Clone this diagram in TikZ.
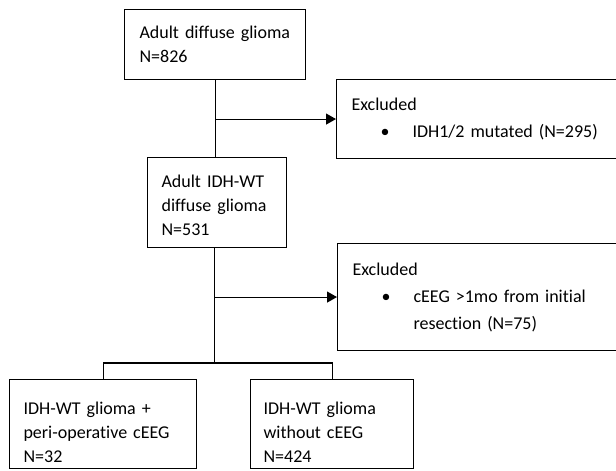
\documentclass[tikz,border=0pt]{standalone}
\usepackage{fontspec}
\setmainfont{Carlito}[Ligatures=CommonOff]
\usetikzlibrary{arrows.meta}
\tikzset{
  box/.style={draw, line width=1.1pt, anchor=north west, align=left, inner ysep=0pt,
    font=\fontsize{18}{24}\selectfont},
  excl/.style={box, inner xsep=15pt, text width=270pt},
  link/.style={line width=1.1pt},
  arr/.style={link, -{Triangle[length=10pt,width=11pt]}}
}
\begin{document}
\begin{tikzpicture}[x=1pt,y=-1pt]
      \useasboundingbox (0,0) rectangle (616,471);
      \node[box, inner xsep=15pt, text width=151pt, minimum height=70pt] (all) at (124,9)
        {Adult diffuse glioma\\N=826};
      \node[excl, minimum height=79pt] (ex1) at (336,79)
        {Excluded\\[3pt]\makebox[61pt][l]{\hspace*{29pt}\textbullet}IDH1/2 mutated (N=295)};
      \node[box, inner xsep=14pt, text width=111pt, minimum height=90pt, text height=19pt] (wt) at (147,157)
        {Adult IDH-WT\\diffuse glioma\\N=531};
      \node[excl, minimum height=107pt] (ex2) at (337,243)
        {Excluded\\[3pt]\makebox[61pt][l]{\hspace*{29pt}\textbullet}cEEG >1mo from initial\\[3pt]\hspace*{61pt}resection (N=75)};
      \node[box, inner xsep=14pt, text width=159pt, minimum height=89pt, text height=29pt] (eeg) at (9,379)
        {IDH-WT glioma +\\peri-operative cEEG\\N=32};
      \node[box, inner xsep=13pt, text width=137pt, minimum height=89pt, text height=29pt] (noeeg) at (250,379)
        {IDH-WT glioma\\without cEEG\\N=424};
      \coordinate (split) at (214.5,363);
      \begin{scope}[link]
        \draw (all.south) to (all.south |- wt.north);
        \draw[arr] (all.south |- ex1.west) to (ex1.west);
        \draw (wt.south -| split) to (split);
        \draw[arr] (split |- ex2.west) to (ex2.west);
        \draw (eeg.north) |- (split) -| (noeeg.north);
      \end{scope}
    \end{tikzpicture}
\end{document}
